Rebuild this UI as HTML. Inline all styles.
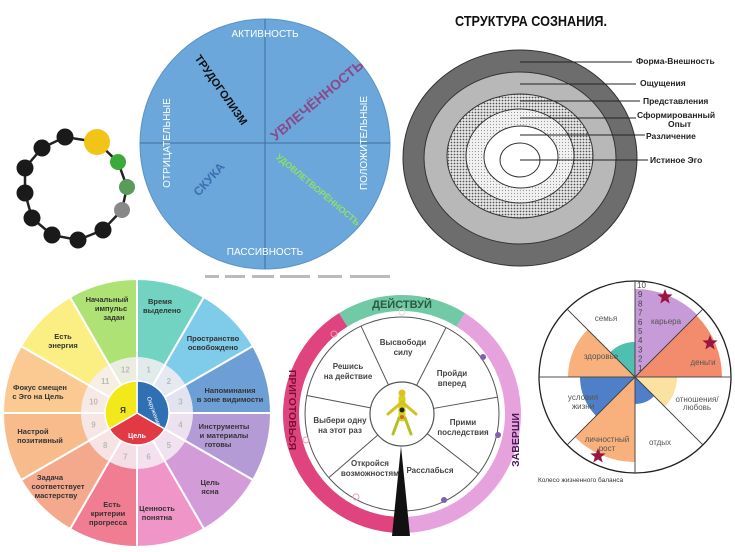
<!DOCTYPE html>
<html><head><meta charset="utf-8">
<style>
html,body{margin:0;padding:0;background:#fff;}
svg{display:block;font-family:"Liberation Sans","DejaVu Sans",sans-serif;}
.wl{font-size:7.5px;font-weight:bold;fill:#333;text-anchor:middle;}
.bm{font-size:8px;font-weight:bold;fill:#444;text-anchor:middle;}
.lr{font-size:8px;fill:#555;text-anchor:middle;}
.sl{font-size:8.5px;font-weight:bold;fill:#222;}
</style></head>
<body>
<svg id="s" width="735" height="552" viewBox="0 0 735 552" xmlns="http://www.w3.org/2000/svg">
<defs>
<pattern id="dots" width="3" height="3" patternUnits="userSpaceOnUse"><rect width="3" height="3" fill="#e8e8e8"/><circle cx="1.5" cy="1.5" r="0.9" fill="#555"/></pattern>
<pattern id="dots2" width="3" height="3" patternUnits="userSpaceOnUse"><rect width="3" height="3" fill="#f2f2f2"/><circle cx="1.5" cy="1.5" r="0.6" fill="#999"/></pattern>
</defs>
<g id="gen"></g>

<!-- top-left chain -->
<g stroke="#222" stroke-width="2.5" fill="none">
<polyline points="97,142 118,162 127,187 122,210 103,230 78,240 52,235 32,218 25,193 25,168 42,148 65,137 97,142"/>
</g>
<circle cx="97" cy="142" r="13" fill="#f2c418"/>
<circle cx="118" cy="162" r="8" fill="#3aaa3a"/>
<circle cx="127" cy="187" r="8" fill="#5a9a5a"/>
<circle cx="122" cy="210" r="8" fill="#888"/>
<g fill="#1a1a1a">
<circle cx="103" cy="230" r="8.5"/><circle cx="78" cy="240" r="8.5"/><circle cx="52" cy="235" r="8.5"/><circle cx="32" cy="218" r="8.5"/><circle cx="25" cy="193" r="8.5"/><circle cx="25" cy="168" r="8.5"/><circle cx="42" cy="148" r="8.5"/><circle cx="65" cy="137" r="8.5"/>
</g>

<!-- blue circle -->
<circle cx="265" cy="144" r="125" fill="#6ba7da" stroke="#5b93c4" stroke-width="1"/>
<line x1="265" y1="19" x2="265" y2="269" stroke="#3f6f9c" stroke-width="1"/>
<line x1="140" y1="143" x2="390" y2="143" stroke="#3f6f9c" stroke-width="1"/>
<text x="265" y="37" font-size="10" fill="#fff" text-anchor="middle">АКТИВНОСТЬ</text>
<text x="265" y="255" font-size="10" fill="#fff" text-anchor="middle">ПАССИВНОСТЬ</text>
<text transform="translate(170,143) rotate(-90)" font-size="10" fill="#fff" text-anchor="middle">ОТРИЦАТЕЛЬНЫЕ</text>
<text transform="translate(367,143) rotate(-90)" font-size="10" fill="#fff" text-anchor="middle">ПОЛОЖИТЕЛЬНЫЕ</text>
<text transform="translate(218,92) rotate(55)" font-size="11" font-weight="bold" fill="#111" text-anchor="middle">ТРУДОГОЛИЗМ</text>
<text transform="translate(320,104) rotate(-40)" font-size="14" font-weight="bold" fill="#8a4a8a" text-anchor="middle">УВЛЕЧЁННОСТЬ</text>
<text transform="translate(212,182) rotate(-48)" font-size="12" font-weight="bold" fill="#3a6fb0" text-anchor="middle">СКУКА</text>
<text transform="translate(316,192) rotate(40)" font-size="9" font-weight="bold" fill="#8ee066" text-anchor="middle">УДОВЛЕТВОРЁННОСТЬ</text>
<g fill="#bbb"><rect x="205" y="275" width="14" height="3"/><rect x="225" y="275" width="20" height="3"/><rect x="252" y="275" width="22" height="3"/><rect x="280" y="275" width="30" height="3"/><rect x="318" y="275" width="24" height="3"/><rect x="350" y="275" width="40" height="3"/></g>

<!-- structure of consciousness -->
<text x="455" y="26" font-size="15" font-weight="bold" fill="#111" textLength="152" lengthAdjust="spacingAndGlyphs">СТРУКТУРА СОЗНАНИЯ.</text>
<ellipse cx="520" cy="158" rx="117" ry="108" fill="#6d6d6d" stroke="#333"/>
<ellipse cx="520" cy="158" rx="96" ry="86" fill="#b8b8b8" stroke="#333"/>
<ellipse cx="520" cy="156" rx="73" ry="62" fill="url(#dots)" stroke="#333"/>
<ellipse cx="520" cy="156" rx="54" ry="47" fill="url(#dots2)" stroke="#333"/>
<ellipse cx="521" cy="157" rx="37" ry="31" fill="#fff" stroke="#333"/>
<ellipse cx="520" cy="160" rx="20" ry="17" fill="#fff" stroke="#333"/>
<g stroke="#222" stroke-width="1">
<line x1="520" y1="62" x2="632" y2="62"/><line x1="520" y1="84" x2="636" y2="84"/><line x1="520" y1="101" x2="640" y2="101"/><line x1="520" y1="118" x2="636" y2="118"/><line x1="520" y1="135" x2="645" y2="135"/><line x1="520" y1="160" x2="648" y2="160"/>
</g>
<text class="sl" x="636" y="64">Форма-Внешность</text>
<text class="sl" x="640" y="86">Ощущения</text>
<text class="sl" x="643" y="104">Представления</text>
<text class="sl" x="637" y="118">Сформированный</text>
<text class="sl" x="668" y="127">Опыт</text>
<text class="sl" x="646" y="139" font-size="9.5">Различение</text>
<text class="sl" x="650" y="163">Истиное Эго</text>

<!-- bottom-left wheel labels -->
<text class="wl"><tspan x="160" y="304">Время</tspan><tspan x="162" y="313">выделено</tspan></text>
<text class="wl"><tspan x="213" y="341">Пространство</tspan><tspan x="213" y="350">освобождено</tspan></text>
<text class="wl"><tspan x="230" y="393">Напоминания</tspan><tspan x="230" y="402">в зоне видимости</tspan></text>
<text class="wl"><tspan x="224" y="429">Инструменты</tspan><tspan x="224" y="438">и материалы</tspan><tspan x="218" y="447">готовы</tspan></text>
<text class="wl"><tspan x="210" y="485">Цель</tspan><tspan x="210" y="494">ясна</tspan></text>
<text class="wl"><tspan x="157" y="511">Ценность</tspan><tspan x="157" y="520">понятна</tspan></text>
<text class="wl"><tspan x="112" y="507">Есть</tspan><tspan x="108" y="516">критерии</tspan><tspan x="108" y="525">прогресса</tspan></text>
<text class="wl"><tspan x="50" y="480">Задача</tspan><tspan x="58" y="489">соответствует</tspan><tspan x="56" y="498">мастерству</tspan></text>
<text class="wl"><tspan x="33" y="434">Настрой</tspan><tspan x="40" y="443">позитивный</tspan></text>
<text class="wl"><tspan x="40" y="390">Фокус смещен</tspan><tspan x="38" y="399">с Эго на Цель</tspan></text>
<text class="wl"><tspan x="63" y="339">Есть</tspan><tspan x="63" y="348">энергия</tspan></text>
<text class="wl"><tspan x="107" y="302">Начальный</tspan><tspan x="111" y="311">импульс</tspan><tspan x="114" y="320">задан</tspan></text>
<g font-size="8" fill="#bbb" text-anchor="middle" font-weight="bold" id="nums"></g>
<text x="123" y="413" font-size="8" font-weight="bold" fill="#333" text-anchor="middle">Я</text>
<text transform="translate(152,412) rotate(70)" font-size="6" fill="#fff" text-anchor="middle">Окружение</text>
<text x="137" y="438" font-size="7" font-weight="bold" fill="#fff" text-anchor="middle">Цель</text>

<!-- bottom-middle labels -->
<text x="402" y="308" font-size="11" font-weight="bold" fill="#2a5a40" text-anchor="middle">ДЕЙСТВУЙ</text>
<text transform="translate(289,410) rotate(90)" font-size="10.5" font-weight="bold" fill="#7a1034" text-anchor="middle">ПРИГОТОВЬСЯ</text>
<text transform="translate(519,440) rotate(-90)" font-size="10.5" font-weight="bold" fill="#4a1a5a" text-anchor="middle">ЗАВЕРШИ</text>
<text class="bm"><tspan x="403" y="345">Высвободи</tspan><tspan x="403" y="355">силу</tspan></text>
<text class="bm"><tspan x="452" y="376">Пройди</tspan><tspan x="452" y="386">вперед</tspan></text>
<text class="bm"><tspan x="463" y="425">Прими</tspan><tspan x="463" y="435">последствия</tspan></text>
<text class="bm"><tspan x="430" y="473">Расслабься</tspan></text>
<text class="bm"><tspan x="370" y="466">Откройся</tspan><tspan x="370" y="476">возможностям</tspan></text>
<text class="bm"><tspan x="340" y="423">Выбери одну</tspan><tspan x="340" y="433">на этот раз</tspan></text>
<text class="bm"><tspan x="348" y="369">Решись</tspan><tspan x="348" y="379">на действие</tspan></text>
<!-- figure -->
<g stroke-linecap="round">
<line x1="402" y1="398" x2="402" y2="418" stroke="#d8d020" stroke-width="7"/>
<line x1="402" y1="402" x2="388" y2="414" stroke="#d8c020" stroke-width="3"/>
<line x1="402" y1="402" x2="416" y2="414" stroke="#d8c020" stroke-width="3"/>
<line x1="399" y1="418" x2="393" y2="434" stroke="#b8c020" stroke-width="3"/>
<line x1="405" y1="418" x2="411" y2="434" stroke="#b8c020" stroke-width="3"/>
<circle cx="402" cy="393" r="3.5" fill="#e0c020"/>
<circle cx="402" cy="410" r="2.5" fill="#222"/>
<circle cx="402" cy="417" r="2" fill="#e06020"/>
</g>
<g fill="none" stroke-width="1"><circle cx="402" cy="312" r="3" stroke="#ddd"/><circle cx="334" cy="334" r="3" stroke="#e8a0b8"/><circle cx="306" cy="440" r="3" stroke="#e8a0b8"/><circle cx="356" cy="497" r="3" stroke="#e8a0b8"/></g>
<g fill="#8060b0"><circle cx="483" cy="357" r="3"/><circle cx="498" cy="435" r="3"/><circle cx="444" cy="500" r="3"/></g>

<!-- bottom-right -->
<g font-size="8" fill="#444" id="lnums"></g>
<text class="lr"><tspan x="606" y="321">семья</tspan></text>
<text class="lr"><tspan x="601" y="359">здоровье</tspan></text>
<text class="lr"><tspan x="666" y="324">карьера</tspan></text>
<text class="lr"><tspan x="703" y="365">деньги</tspan></text>
<text class="lr"><tspan x="697" y="402">отношения/</tspan><tspan x="697" y="410">любовь</tspan></text>
<text class="lr"><tspan x="660" y="445">отдых</tspan></text>
<text class="lr"><tspan x="607" y="442">личностный</tspan><tspan x="607" y="451">рост</tspan></text>
<text class="lr"><tspan x="583" y="400">условия</tspan><tspan x="583" y="409">жизни</tspan></text>
<text x="538" y="482" font-size="6.5" fill="#333">Колесо жизненного баланса</text>
<g fill="#9a1540" id="stars"></g>
</svg>
<script>
var NS="http://www.w3.org/2000/svg",G=document.getElementById('gen');
function P(a,cx,cy,r){a=a*Math.PI/180;return [cx+r*Math.sin(a),cy-r*Math.cos(a)];}
function wedge(cx,cy,r0,r1,a0,a1,fill,stroke,sw,parent){
 var p1=P(a0,cx,cy,r1),p2=P(a1,cx,cy,r1),lg=(a1-a0)>180?1:0,d;
 if(r0>0){var p3=P(a1,cx,cy,r0),p4=P(a0,cx,cy,r0);
  d="M"+p1+"A"+r1+","+r1+" 0 "+lg+" 1 "+p2+"L"+p3+"A"+r0+","+r0+" 0 "+lg+" 0 "+p4+"Z";}
 else d="M"+cx+","+cy+"L"+p1+"A"+r1+","+r1+" 0 "+lg+" 1 "+p2+"Z";
 var e=document.createElementNS(NS,'path');e.setAttribute('d',d);e.setAttribute('fill',fill);
 if(stroke){e.setAttribute('stroke',stroke);e.setAttribute('stroke-width',sw||1);}
 (parent||G).appendChild(e);return e;}
function el(t,at,parent){var e=document.createElementNS(NS,t);for(var k in at)e.setAttribute(k,at[k]);(parent||G).appendChild(e);return e;}
var cx=137,cy=413,cols=['#72d3c2','#7fcbea','#6d9fd6','#b49bd6','#d39bd8','#ef95c8','#f07d92','#f5a98c','#f8bb8c','#fbca92','#fbef84','#aee274'];
for(var i=0;i<12;i++)wedge(cx,cy,0,134,i*30,i*30+30,cols[i],'#fff',2);
el('circle',{cx:cx,cy:cy,r:56,fill:'#f6eff3',opacity:0.85});
for(var i=0;i<12;i++){var a=P(i*30,cx,cy,56),b=P(i*30,cx,cy,32);el('line',{x1:a[0],y1:a[1],x2:b[0],y2:b[1],stroke:'#fff','stroke-width':2});}
wedge(cx,cy,0,32,0,120,'#2f6fb4','#fff',1.5);wedge(cx,cy,0,32,120,240,'#e23a45','#fff',1.5);wedge(cx,cy,0,32,240,360,'#f3e81a','#fff',1.5);
var N=document.getElementById('nums');
for(var i=0;i<12;i++){var q=P(i*30+15,cx,cy,45);var t=el('text',{x:q[0],y:q[1]+3},N);t.textContent=(i+1);}
var bx=402,by=414;
wedge(bx,by,103,119,-32,32,'#72c9a6');wedge(bx,by,103,119,32,180,'#e6a2dc');wedge(bx,by,103,119,180,328,'#e0447e');
el('circle',{cx:bx,cy:by,r:97,fill:'#fff',stroke:'#555','stroke-width':1});
el('circle',{cx:bx,cy:by,r:32,fill:'#fff',stroke:'#555','stroke-width':1.2});
[-25,27,80,128,229,281].forEach(function(a){var p=P(a,bx,by,32),q=P(a,bx,by,97);el('line',{x1:p[0],y1:p[1],x2:q[0],y2:q[1],stroke:'#555','stroke-width':1});});
el('polygon',{points:'401,446 392,536 410,536',fill:'#111'});
var rx=635,ry=377;
el('circle',{cx:rx,cy:ry,r:96,fill:'#fff'});
[[0,88,'#c79ad8'],[45,87,'#f28c6c'],[90,42,'#fbe2a0'],[135,27,'#4f7fc8'],[180,85,'#f8b07c'],[225,55,'#4f7fc8'],[270,67,'#f8b07c'],[315,35,'#4fc0b0']].forEach(function(w){wedge(rx,ry,0,w[1],w[0],w[0]+45,w[2]);});
el('circle',{cx:rx,cy:ry,r:96,fill:'none',stroke:'#222','stroke-width':1.3});
for(var i=0;i<8;i++){var p=P(i*45,rx,ry,96),q=P(i*45+180,rx,ry,96);el('line',{x1:p[0],y1:p[1],x2:q[0],y2:q[1],stroke:'#444','stroke-width':0.8});}
var L=document.getElementById('lnums');
for(var k=1;k<=10;k++){var t=el('text',{x:k==10?637:638,y:ry-k*9.2+3},L);t.textContent=k;}
function star(x,y,r,p){var s='';for(var i=0;i<10;i++){var rr=i%2?r*0.42:r;var a=i*36*Math.PI/180;s+=(x+rr*Math.sin(a))+','+(y-rr*Math.cos(a))+' ';}el('polygon',{points:s},p);}
var S=document.getElementById('stars');star(665,297,8,S);star(710,343,8,S);star(598,456,8,S);
</script>
</body></html>
